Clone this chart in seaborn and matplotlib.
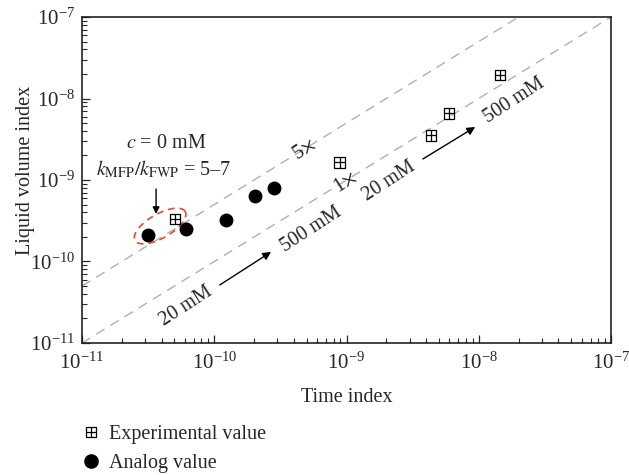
import numpy as np
import pandas as pd
import matplotlib
matplotlib.use("Agg")
from matplotlib import pyplot as plt
from matplotlib.path import Path
from matplotlib.lines import Line2D
from matplotlib.ticker import LogLocator, NullFormatter
import seaborn as sns

# Experimental values (time index, liquid volume index)
exp_time = [5.05e-11, 8.9e-10, 4.36e-9, 5.96e-9, 1.45e-8]
exp_volume = [3.32e-10, 1.64e-9, 3.52e-9, 6.55e-9, 1.94e-8]

# Analog (simulated) values
sim_time = [3.16e-11, 6.1e-11, 1.23e-10, 2.03e-10, 2.83e-10]
sim_volume = [2.14e-10, 2.48e-10, 3.23e-10, 6.44e-10, 7.97e-10]

# reference lines y = k * x
ratios = [1, 5]
ratio_labels = [r"1$\times$", r"5$\times$"]
ref_x = [1e-11, 1e-7]

sns.set_style("ticks")
plt.rcParams["font.family"] = ["Liberation Serif", "DejaVu Serif"]
plt.rcParams["mathtext.fontset"] = "stix"

exp_df = pd.DataFrame({"time": exp_time, "volume": exp_volume})
sim_df = pd.DataFrame({"time": sim_time, "volume": sim_volume})

# square with a cross inside
box_cross = Path(
    [(-1, -1), (1, -1), (1, 1), (-1, 1), (-1, -1), (0, -1), (0, 1), (-1, 0), (1, 0)],
    [Path.MOVETO, Path.LINETO, Path.LINETO, Path.LINETO, Path.CLOSEPOLY,
     Path.MOVETO, Path.LINETO, Path.MOVETO, Path.LINETO],
)

fig = plt.figure(figsize=(6.29, 4.75), dpi=100)
ax = fig.add_axes([0.1304, 0.2779, 0.841, 0.6863])
ax.set_xscale("log")
ax.set_yscale("log")

for k in ratios:
    ax.plot(ref_x, [k * v for v in ref_x], color="#b0b0b0", lw=1.0,
            dashes=(7, 5), zorder=1)

sns.scatterplot(data=sim_df, x="time", y="volume", ax=ax, marker="o",
                s=100, color="black", edgecolor="black", linewidth=0, zorder=3)
ax.scatter(exp_df["time"], exp_df["volume"], marker=box_cross, s=60,
           facecolors="none", edgecolors="black", linewidths=0.9, zorder=3)

ax.set_xlim(1e-11, 1e-7)
ax.set_ylim(1e-11, 1e-7)

for axis in (ax.xaxis, ax.yaxis):
    axis.set_major_locator(LogLocator(base=10, numticks=10))
    axis.set_minor_locator(LogLocator(base=10, subs=np.arange(2, 10), numticks=20))
    axis.set_minor_formatter(NullFormatter())
ax.tick_params(which="major", direction="in", length=6, width=0.9,
               labelsize=15, top=False, right=False, pad=5)
ax.tick_params(axis="x", which="major", pad=7)
ax.tick_params(which="minor", direction="in", length=3.5, width=0.8,
               top=False, right=False)
for sp in ax.spines.values():
    sp.set_linewidth(1.2)
    sp.set_color("#222222")

fs = 14.5
ax.set_xlabel("Time index", fontsize=fs, labelpad=10)
ax.set_ylabel("Liquid volume index", fontsize=fs)
ax.yaxis.set_label_coords(-0.088, 0.53)

rot = 33
ax.text(4.77e-10, 2.33e-9, ratio_labels[1], fontsize=fs, rotation=rot,
        ha="center", va="center", color="#222222")
ax.text(9.75e-10, 9.4e-10, ratio_labels[0], fontsize=fs, rotation=rot,
        ha="center", va="center", color="#222222")

ax.text(6.1e-11, 2.85e-11, "20 mM", fontsize=fs, rotation=rot, ha="center", va="center")
ax.text(5.4e-10, 2.44e-10, "500 mM", fontsize=fs, rotation=rot, ha="center", va="center")
ax.annotate("", xy=(2.69e-10, 1.31e-10), xytext=(1.1e-10, 5.15e-11),
            arrowprops=dict(arrowstyle="-|>", color="black", lw=1.0,
                            mutation_scale=12, shrinkA=0, shrinkB=0))
ax.text(2.1e-9, 9.7e-10, "20 mM", fontsize=fs, rotation=rot, ha="center", va="center")
ax.text(1.85e-8, 9.3e-9, "500 mM", fontsize=fs, rotation=rot, ha="center", va="center")
ax.annotate("", xy=(9.4e-9, 4.47e-9), xytext=(3.78e-9, 1.81e-9),
            arrowprops=dict(arrowstyle="-|>", color="black", lw=1.0,
                            mutation_scale=12, shrinkA=0, shrinkB=0))

ax.text(4.3e-11, 2.77e-9, r"$c$ = 0 mM", fontsize=fs, ha="center", va="center")
ax.text(4.17e-11, 1.33e-9, r"$k_{\mathrm{MFP}}/k_{\mathrm{FWP}}$ = 5–7", fontsize=fs,
        ha="center", va="center")
ax.annotate("", xy=(3.63e-11, 3.83e-10), xytext=(3.63e-11, 7.76e-10),
            arrowprops=dict(arrowstyle="-|>", color="black", lw=1.0,
                            mutation_scale=10, shrinkA=0, shrinkB=0))

# dashed red ellipse around the c = 0 mM points, drawn in pixel-like log space
lx0, ly0 = -10.41, -9.565
a, b, th = 29, 12, np.deg2rad(30)
t = np.linspace(0, 2 * np.pi, 200)
dx = a * np.cos(t) * np.cos(th) - b * np.sin(t) * np.sin(th)
dy = a * np.cos(t) * np.sin(th) + b * np.sin(t) * np.cos(th)
ax.plot(10 ** (lx0 + dx / 132.25), 10 ** (ly0 + dy / 81.5), color="#e8472f",
        lw=1.2, dashes=(4, 3), zorder=2)

handles = [
    Line2D([], [], marker=box_cross, ls="none", markersize=7.5,
           markerfacecolor="none", markeredgecolor="black", markeredgewidth=0.9),
    Line2D([], [], marker="o", ls="none", markersize=9.5, color="black"),
]
fig.legend(handles, ["Experimental value", "Analog value"], loc="upper left",
           bbox_to_anchor=(0.128, 0.106), frameon=False, fontsize=fs,
           handlelength=1.0, handletextpad=0.4, labelspacing=0.5,
           borderpad=0, borderaxespad=0)

plt.savefig("out.png", dpi=100)
